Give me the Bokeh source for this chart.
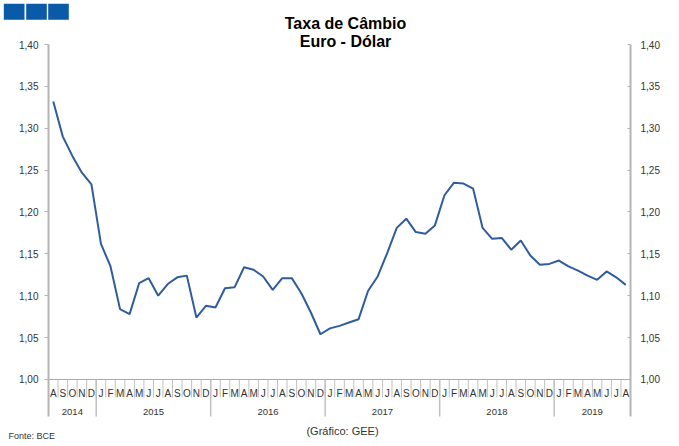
from bokeh.plotting import figure
from bokeh.models import (Range1d, LinearAxis, FixedTicker, CustomJSTickFormatter,
                          ColumnDataSource)
from bokeh.core.properties import value
from bokeh.embed import file_html
from bokeh.resources import INLINE

# ---------------- data ----------------
years = ["2014", "2015", "2016", "2017", "2018", "2019"]
months_per_year = [5, 12, 12, 12, 12, 8]          # Aug 2014 .. Aug 2019
month_letters = ["J", "F", "M", "A", "M", "J", "J", "A", "S", "O", "N", "D"]
first_month = 7                                    # August (0-based)
rate = [
    1.332, 1.290, 1.267, 1.247, 1.233,
    1.162, 1.135, 1.084, 1.078, 1.115, 1.121, 1.100, 1.114, 1.122, 1.124, 1.074, 1.088,
    1.086, 1.109, 1.110, 1.134, 1.131, 1.123, 1.107, 1.121, 1.121, 1.103, 1.080, 1.054,
    1.061, 1.064, 1.068, 1.072, 1.106, 1.123, 1.151, 1.181, 1.192, 1.176, 1.174, 1.184,
    1.220, 1.235, 1.234, 1.228, 1.181, 1.168, 1.169, 1.155, 1.166, 1.148, 1.137, 1.138,
    1.142, 1.135, 1.130, 1.124, 1.119, 1.129, 1.122, 1.113,
]
y_ticks = [1.00, 1.05, 1.10, 1.15, 1.20, 1.25, 1.30, 1.35, 1.40]
title_lines = ["Taxa de Câmbio", "Euro - Dólar"]
source_note = "Fonte: BCE"
credit_note = "(Gráfico: GEE)"

# ---------------- layout (page pixels) ----------------
W, H = 677, 444
FL, FR, FT, FB = 48, 630, 44, 416   # plot area edges on page
Y0, Y1 = 0.9558, 1.40
n = len(rate)
UX = n / (FR - FL)             # data units per pixel (x)
UY = (Y1 - Y0) / (FB - FT)     # data units per pixel (y)


def dx(px):
    return (px - FL) * UX


def dy(py):
    return Y1 - (py - FT) * UY


AX = "#b4b4b4"
TXT = "#333333"
FONT = "Liberation Sans"

p = figure(width=W, height=H, output_backend="svg", toolbar_location=None,
           x_range=Range1d(dx(0), dx(W)), y_range=Range1d(dy(H), dy(0)),
           min_border=0, x_axis_type=None, y_axis_type=None)
p.outline_line_color = None
p.xgrid.visible = False
p.ygrid.visible = False
p.background_fill_color = "white"
p.border_fill_color = "white"


def mk_axis(side):
    ax = LinearAxis(ticker=FixedTicker(ticks=y_ticks), bounds=(Y0, Y1),
                    fixed_location=0 if side == "left" else n,
                    formatter=CustomJSTickFormatter(
                        code="return tick.toFixed(2).replace('.', ',');"))
    ax.axis_line_color = AX
    ax.axis_line_width = 2
    ax.major_tick_line_color = AX
    ax.major_tick_line_width = 1
    ax.minor_tick_line_color = None
    ax.major_label_text_font = FONT
    ax.major_label_text_font_size = "10px"
    ax.major_label_text_color = TXT
    if side == "left":
        ax.major_tick_out = 4
        ax.major_tick_in = 0
        ax.major_label_standoff = 6
    else:
        ax.major_tick_out = 0
        ax.major_tick_in = 3
        ax.major_label_standoff = 10
    return ax


p.add_layout(mk_axis("left"), "left")
p.add_layout(mk_axis("right"), "right")

# baseline at 1,00
p.segment(x0=[0], y0=[1.0], x1=[n], y1=[1.0], line_color="#a8a8a8", line_width=1)

# month separators and labels
labels, centers = [], []
m = first_month
for i in range(n):
    labels.append(month_letters[m % 12])
    centers.append(i + 0.5)
    m += 1
sep_x = list(range(1, n))
p.segment(x0=sep_x, y0=[1.0] * len(sep_x), x1=sep_x, y1=[1.0 - 18 * UY] * len(sep_x),
          line_color="#c0c0c0", line_width=1)
p.text(x=centers, y=[1.0] * n, text=labels, y_offset=14.5,
       text_align="center", text_baseline="alphabetic",
       text_font=value(FONT), text_font_size="10px", text_color=TXT)

# year separators and labels
bounds = [0]
for c in months_per_year:
    bounds.append(bounds[-1] + c)
ysep = bounds[1:-1]
p.segment(x0=ysep, y0=[1.0] * len(ysep), x1=ysep, y1=[Y0] * len(ysep),
          line_color="#c0c0c0", line_width=1.5)
ycent = [(bounds[k] + bounds[k + 1]) / 2 for k in range(len(years))]
p.text(x=ycent, y=[1.0] * len(years), text=years, y_offset=33,
       text_align="center", text_baseline="alphabetic",
       text_font=value(FONT), text_font_size="9.5px", text_color=TXT)

# the series
src = ColumnDataSource(dict(x=centers, y=rate))
p.line("x", "y", source=src, line_color="#2f5d9b", line_width=2)

# ---------------- header / footer ----------------
p.quad(left=[dx(3.3), dx(25.7), dx(47.7)], right=[dx(24.0), dx(46.3), dx(68.3)],
       top=[dy(3.3)] * 3, bottom=[dy(19.3)] * 3, fill_color="#0b5aa8", line_color=None)
p.text(x=[dx(345)] * 2, y=[dy(23), dy(41)], text=title_lines,
       text_align="center", text_baseline="alphabetic",
       text_font=value(FONT), text_font_size="16px", text_font_style="bold",
       text_color="black")
p.text(x=[dx(8)], y=[dy(435)], text=[source_note], text_align="left",
       text_baseline="alphabetic", text_font=value(FONT), text_font_size="9px",
       text_color=TXT)
p.text(x=[dx(342)], y=[dy(430)], text=[credit_note], text_align="center",
       text_baseline="alphabetic", text_font=value(FONT), text_font_size="11px",
       text_color=TXT)

open("out.html", "w").write(file_html(p, INLINE))
